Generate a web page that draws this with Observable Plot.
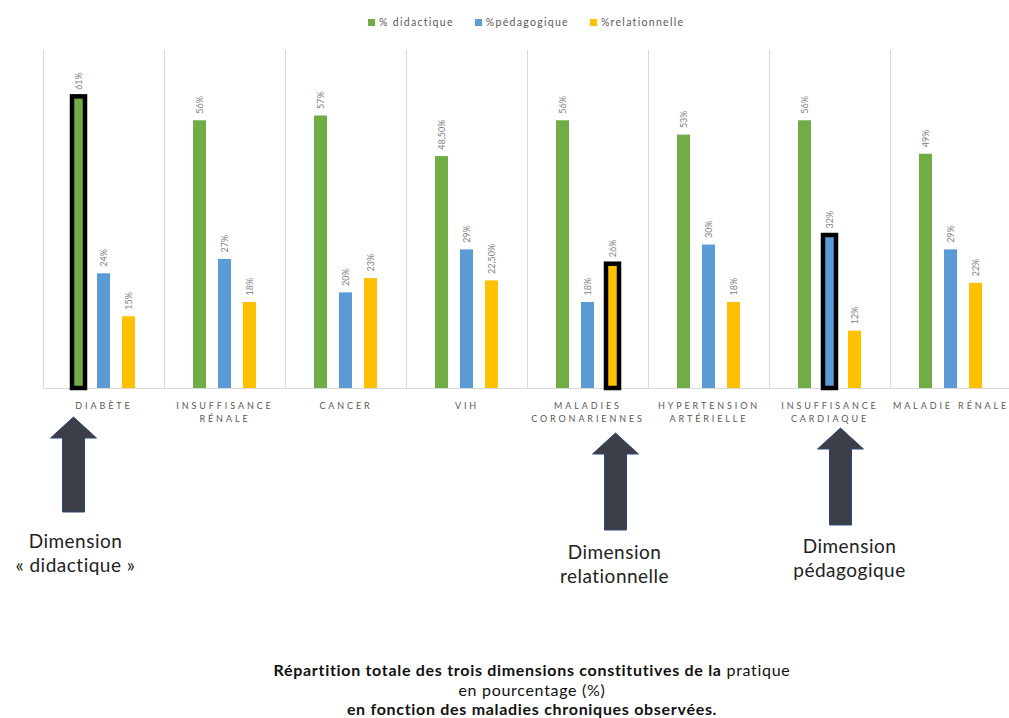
<!DOCTYPE html>
<html><head><meta charset="utf-8">
<script src="https://cdn.jsdelivr.net/npm/d3@7"></script>
<script src="https://cdn.jsdelivr.net/npm/@observablehq/plot@0.6"></script>
<style>
html,body{margin:0;padding:0;background:#fff;width:1009px;height:718px;overflow:hidden;}
#wrap{position:relative;width:1009px;height:718px;font-family:Lato,"Open Sans",sans-serif;overflow:hidden;}
#chart{position:absolute;top:0;left:0;width:1020px;}
#chart svg{max-width:none !important;}
#legend{position:absolute;top:16px;left:368px;display:flex;gap:21px;font-size:10.5px;letter-spacing:1.3px;color:#595959;align-items:center;white-space:nowrap;}
#legend .sw{display:inline-block;width:7px;height:7px;margin-right:4px;vertical-align:middle;position:relative;top:-1px;}
#caption{position:absolute;top:660px;left:0;width:1064px;text-align:center;font-size:16px;letter-spacing:0.7px;line-height:19.5px;color:#111;}
#chart g[aria-label="fx-axis tick label"]{letter-spacing:2.9px;}
</style></head><body>
<div id="wrap"><div id="chart"></div><div id="legend"></div><div id="caption"></div></div>
<script>
// ---- data ----
const categories = ["DIABÈTE", "INSUFFISANCE\nRÉNALE", "CANCER", "VIH", "MALADIES\nCORONARIENNES", "HYPERTENSION\nARTÉRIELLE", "INSUFFISANCE\nCARDIAQUE", "MALADIE RÉNALE"];
const series = ["% didactique", "%pédagogique", "%relationnelle"];
const didactique   = [61, 56, 57, 48.5, 56, 53, 56, 49];
const pedagogique  = [24, 27, 20, 29, 18, 30, 32, 29];
const relationnelle = [15, 18, 23, 22.5, 26, 18, 12, 22];
const colors = ["#70ad47", "#5b9bd5", "#ffc000"];
const highlights = [
  {category: "DIABÈTE", series: "% didactique", note: "Dimension\n« didactique »"},
  {category: "MALADIES\nCORONARIENNES", series: "%relationnelle", note: "Dimension\nrelationnelle"},
  {category: "INSUFFISANCE\nCARDIAQUE", series: "%pédagogique", note: "Dimension\npédagogique"}
];
const captionLines = [
  ["Répartition totale des trois dimensions constitutives de la", " pratique"],
  ["", "en pourcentage (%)"],
  ["en fonction des maladies chroniques observées.", ""]
];

// ---- table ----
const valuesBySeries = [didactique, pedagogique, relationnelle];
const rows = [];
categories.forEach((c, i) => series.forEach((s, j) => {
  rows.push({cat: c, series: s, value: valuesBySeries[j][i],
    hl: highlights.some(h => h.category === c && h.series === s)});
}));
const fmt = v => Number.isInteger(v) ? v + "%" : v.toFixed(2).replace(".", ",") + "%";

// annotation layout (arrow offsets / vertical placement), kept apart from data
const layout = [
  {dx: -5, top: 417, bottom: 512, textDx: -3, textY: 542},
  {dx: 3, top: 433, bottom: 530, textDx: 2, textY: 553},
  {dx: 11, top: 428, bottom: 525, textDx: 20, textY: 547}
];

const plot = Plot.plot({
  width: 1020,
  height: 600,
  marginTop: 50,
  marginBottom: 212,
  marginLeft: 39,
  marginRight: 6,
  style: {fontFamily: "Lato, 'Open Sans', sans-serif", background: "transparent", maxWidth: "none"},
  fx: {domain: categories, padding: 0, label: null},
  x: {domain: series, paddingInner: 0.49, paddingOuter: 1.15, axis: null},
  y: {domain: [0, 70.7], axis: null},
  color: {domain: series, range: colors},
  marks: [
    Plot.frame({anchor: "left", stroke: "#d9d9d9", strokeWidth: 1}),
    Plot.ruleY([0], {stroke: "#d9d9d9", strokeWidth: 1}),
    Plot.barY(rows, {fx: "cat", x: "series", y: "value", fill: "series",
      stroke: d => d.hl ? "#000" : "none", strokeWidth: 4.5}),
    Plot.text(rows, {fx: "cat", x: "series", y: "value", text: d => fmt(d.value),
      rotate: -90, textAnchor: "start", lineAnchor: "middle", dy: -7,
      fontSize: 9, fill: "#808080"}),
    Plot.axisFx({anchor: "bottom", tickSize: 0, tickPadding: 12, fontSize: 9,
      fill: "#595959", lineHeight: 1.4, label: null})
  ]
});
document.getElementById("chart").appendChild(plot);

// arrows + notes, placed with the plot's own scales
const fx = plot.scale("fx"), xs = plot.scale("x");
const svg = d3.select(plot);
highlights.forEach((h, k) => {
  const L = layout[k];
  const bc = fx.apply(h.category) + xs.apply(h.series) - xs.range[0] + xs.bandwidth / 2;
  const cx = bc + L.dx;
  const hh = 21, hw = 23, sw = 11;
  const pts = [[cx, L.top], [cx + hw, L.top + hh], [cx + sw, L.top + hh], [cx + sw, L.bottom],
    [cx - sw, L.bottom], [cx - sw, L.top + hh], [cx - hw, L.top + hh]];
  svg.append("path").attr("d", "M" + pts.map(p => p.join(",")).join("L") + "Z")
    .attr("fill", "#3c3f47").attr("stroke", "#2f4a78").attr("stroke-width", 1);
  const t = svg.append("text").attr("text-anchor", "middle")
    .attr("font-family", "Lato, 'Open Sans', sans-serif").attr("font-size", 19)
    .attr("letter-spacing", "0.5px").attr("fill", "#222");
  h.note.split("\n").forEach((line, i) => {
    t.append("tspan").attr("x", bc + L.textDx).attr("y", L.textY + 6 + i * 24).text(line);
  });
});

// legend
const lg = d3.select("#legend");
series.forEach((s, j) => {
  const it = lg.append("span");
  it.append("span").attr("class", "sw").style("background", colors[j]);
  it.append("span").text(s);
});

// caption
const cap = d3.select("#caption");
captionLines.forEach(([b, n]) => {
  const d = cap.append("div");
  if (b) d.append("b").text(b);
  if (n) d.append("span").text(n);
});
</script>
</body></html>
